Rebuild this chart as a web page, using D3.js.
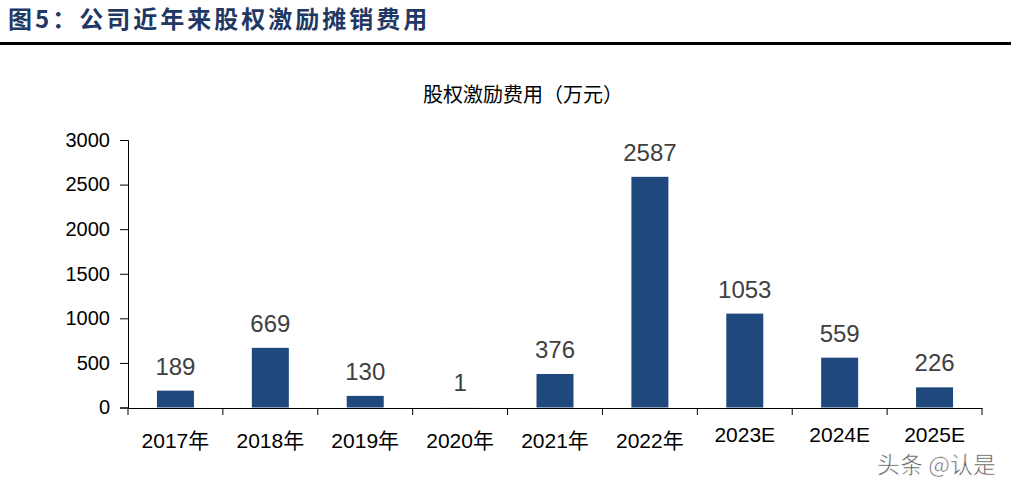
<!DOCTYPE html>
<html>
<head>
<meta charset="utf-8">
<script src="https://cdn.jsdelivr.net/npm/d3@7"></script>
<style>
  body { margin: 0; background: #fff; }
  svg { display: block; font-family: "Liberation Sans", Arial, "Noto Sans CJK SC", sans-serif; }
</style>
</head>
<body>
<svg id="chart" width="1011" height="488"></svg>
<script>
/* data */
var categories = ["2017年", "2018年", "2019年", "2020年", "2021年", "2022年", "2023E", "2024E", "2025E"];
var values = [189, 669, 130, 1, 376, 2587, 1053, 559, 226];
var yTicks = [0, 500, 1000, 1500, 2000, 2500, 3000];

var barColor = "#1F497D";

var svg = d3.select("#chart");

/* figure caption */
svg.append("text")
    .attr("x", 8)
    .attr("y", 28)
    .attr("font-family", "'Noto Sans CJK SC', sans-serif")
    .attr("font-weight", "bold")
    .attr("font-size", 24)
    .attr("letter-spacing", 3)
    .attr("fill", "#1F3864")
    .text("图5：公司近年来股权激励摊销费用");

svg.append("rect")
    .attr("x", 0)
    .attr("y", 42)
    .attr("width", 1011)
    .attr("height", 3)
    .attr("fill", "#000");

/* chart title */
svg.append("text")
    .attr("x", 523)
    .attr("y", 102)
    .attr("text-anchor", "middle")
    .attr("font-family", "'Noto Sans CJK SC', sans-serif")
    .attr("font-size", 20)
    .attr("fill", "#000")
    .text("股权激励费用（万元）");

var xAxis = d3.scaleBand()
    .domain(categories)
    .range([128, 982])
    .padding(0);

var yAxis = d3.scaleLinear()
    .domain([0, 3000])
    .range([407.5, 140]);

/* y axis */
var gy = svg.append("g")
    .attr("transform", "translate(128,0)")
    .call(d3.axisLeft(yAxis).tickValues(yTicks).tickFormat(d3.format("d")).tickSize(8).tickPadding(10));
gy.selectAll("text")
    .attr("font-size", 20)
    .attr("fill", "#000");

/* x axis */
var gx = svg.append("g")
    .attr("transform", "translate(0,408)")
    .call(d3.axisBottom(xAxis).tickSize(0).tickFormat(""));
gx.selectAll(".tick").remove();
gx.selectAll("line.sep")
    .data(d3.range(categories.length + 1))
    .enter()
    .append("line")
    .attr("class", "sep")
    .attr("x1", i => 128 + i * xAxis.step())
    .attr("x2", i => 128 + i * xAxis.step())
    .attr("y1", 0)
    .attr("y2", 7)
    .attr("stroke", "#000");

svg.selectAll("path.domain").attr("stroke", "#000");

/* category labels, the year ones sit a little lower like in the source */
svg.selectAll("text.cat")
    .data(categories)
    .enter()
    .append("text")
    .attr("class", "cat")
    .attr("x", d => xAxis(d) + xAxis.bandwidth() / 2)
    .attr("y", d => d.indexOf("年") >= 0 ? 448 : 442)
    .attr("text-anchor", "middle")
    .attr("font-size", 21)
    .attr("fill", "#000")
    .text(d => d);

/* bars */
var barW = 37;
svg.selectAll("rect.bar")
    .data(values)
    .enter()
    .append("rect")
    .attr("class", "bar")
    .attr("x", (d, i) => xAxis(categories[i]) + xAxis.bandwidth() / 2 - barW / 2)
    .attr("y", d => yAxis(d))
    .attr("width", barW)
    .attr("height", d => yAxis(0) - yAxis(d))
    .attr("fill", barColor);

/* value labels */
svg.selectAll("text.val")
    .data(values)
    .enter()
    .append("text")
    .attr("class", "val")
    .attr("x", (d, i) => xAxis(categories[i]) + xAxis.bandwidth() / 2)
    .attr("y", d => yAxis(d) - 16)
    .attr("text-anchor", "middle")
    .attr("font-size", 24)
    .attr("fill", "#404040")
    .text(d => d);

/* watermark */
svg.append("text")
    .attr("x", 996)
    .attr("y", 473)
    .attr("text-anchor", "end")
    .attr("font-family", "'Noto Sans CJK SC', sans-serif")
    .attr("font-size", 23)
    .attr("fill", "#555")
    .attr("stroke", "#fff")
    .attr("stroke-width", 0.6)
    .text("头条 @认是");
</script>
</body>
</html>
